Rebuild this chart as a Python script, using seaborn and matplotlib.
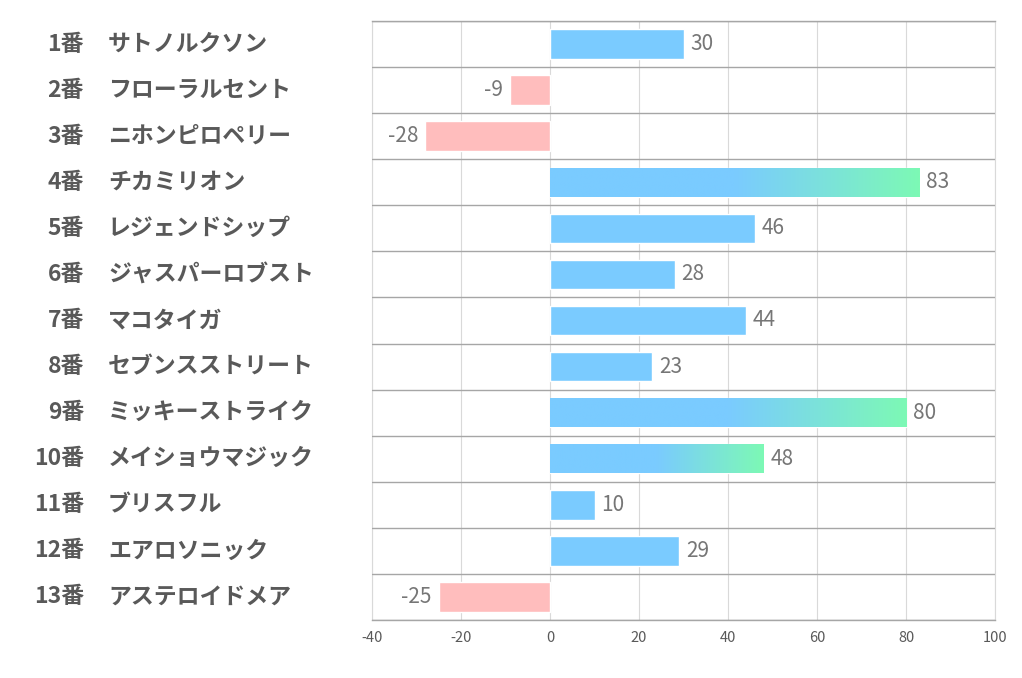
import matplotlib
matplotlib.use("Agg")
import matplotlib.pyplot as plt
import matplotlib.transforms as mtransforms
from matplotlib.colors import LinearSegmentedColormap
import numpy as np
import pandas as pd
import seaborn as sns

numbers = ["1番", "2番", "3番", "4番", "5番", "6番", "7番", "8番", "9番", "10番", "11番", "12番", "13番"]
names = ["サトノルクソン", "フローラルセント", "ニホンピロペリー", "チカミリオン", "レジェンドシップ",
         "ジャスパーロブスト", "マコタイガ", "セブンスストリート", "ミッキーストライク",
         "メイショウマジック", "ブリスフル", "エアロソニック", "アステロイドメア"]
values = [30, -9, -28, 83, 46, 28, 44, 23, 80, 48, 10, 29, -25]
x_ticks = [-40, -20, 0, 20, 40, 60, 80, 100]

BLUE = "#7ACBFF"
GREEN = "#7DF9B5"
PINK = "#FFBDBD"

sns.set_style("white")
plt.rcParams["font.family"] = ["Noto Sans CJK JP", "DejaVu Sans"]

df = pd.DataFrame({"label": [n + " " + m for n, m in zip(numbers, names)], "value": values})
colors = [BLUE if v >= 0 else PINK for v in values]

fig = plt.figure(figsize=(10.22, 6.78), dpi=100)
ax = fig.add_axes([372 / 1022, 1 - 620 / 678, (995 - 372) / 1022, (620 - 21) / 678])

sns.barplot(data=df, x="value", y="label", hue="label", palette=colors, legend=False,
            orient="h", width=0.64, ax=ax, zorder=2, saturation=1)

# グラデーション (上位3頭)
top3 = sorted(range(len(values)), key=lambda i: values[i], reverse=True)[:3]
cmap = LinearSegmentedColormap.from_list("bg", [(0, BLUE), (0.5, BLUE), (1, GREEN)])
grad = np.linspace(0, 1, 256).reshape(1, -1)
for i in top3:
    patch = ax.patches[i]
    x0, y0 = patch.get_x(), patch.get_y()
    w, h = patch.get_width(), patch.get_height()
    im = ax.imshow(grad, cmap=cmap, aspect="auto", extent=[x0, x0 + w, y0 + h, y0], zorder=3)
    im.set_clip_path(patch)

ax.set_xlim(-40, 100)
ax.set_ylim(len(values) - 0.5, -0.5)
ax.set_xticks(x_ticks)
ax.set_xticklabels([str(t) for t in x_ticks], color="#595959", fontsize=10.5)
ax.tick_params(axis="x", length=0, pad=8)
ax.set_yticks([])
ax.set_xlabel("")
ax.set_ylabel("")

for t in x_ticks:
    ax.axvline(t, color="#D9D9D9", lw=0.8, zorder=1)
for k in range(len(values) + 1):
    ax.axhline(k - 0.5, color="#A6A6A6", lw=1.0, zorder=4)
for s in ["left", "right"]:
    ax.spines[s].set_color("#D9D9D9")
    ax.spines[s].set_linewidth(0.8)
for s in ["top", "bottom"]:
    ax.spines[s].set_color("#A6A6A6")
    ax.spines[s].set_linewidth(1.0)

# 値ラベル
for i, v in enumerate(values):
    if v >= 0:
        ax.annotate(str(v), (v, i), xytext=(5, 0), textcoords="offset points",
                    ha="left", va="center", fontsize=15, color="#767676")
    else:
        ax.annotate(str(v), (v, i), xytext=(-5, 0), textcoords="offset points",
                    ha="right", va="center", fontsize=15, color="#767676")

# 馬番・馬名
trans = mtransforms.blended_transform_factory(fig.transFigure, ax.transData)
for i, (n, m) in enumerate(zip(numbers, names)):
    ax.text(84 / 1022, i, n, transform=trans, ha="right", va="center",
            fontsize=16.5, fontweight="bold", color="#595959")
    ax.text(108 / 1022, i, m, transform=trans, ha="left", va="center",
            fontsize=16.5, fontweight="bold", color="#595959")

fig.savefig("out.png", dpi=100)
